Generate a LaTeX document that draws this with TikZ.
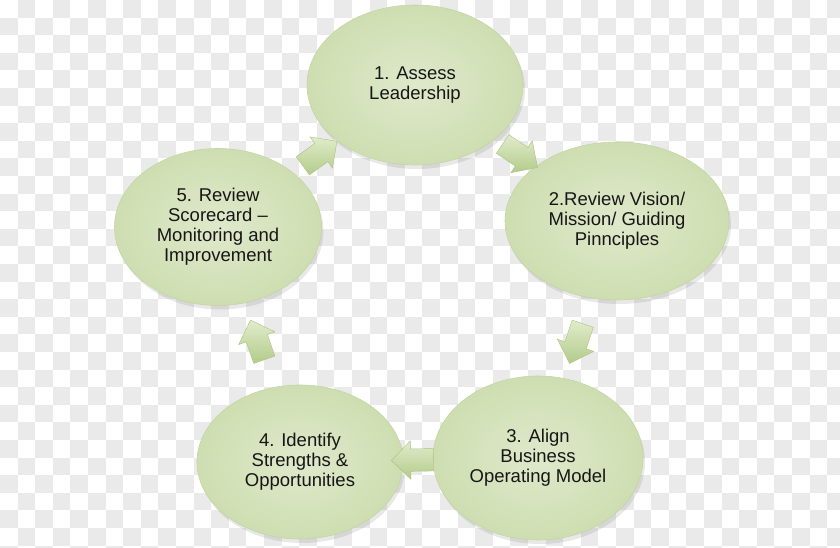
\documentclass[tikz,border=0pt]{standalone}
\usepackage{fontspec}
\setmainfont{Liberation Sans}
\usetikzlibrary{
    shapes.geometric,
    shapes.arrows,
    shadows,
    calc
}
\definecolor{ink}      {HTML}{161616}
\definecolor{checker}  {HTML}{EAEAEA}
\definecolor{leafin}   {HTML}{DFE9CB}
\definecolor{leafout}  {HTML}{CEDEB1}
\definecolor{leafrim}  {HTML}{C3D5A3}
\definecolor{arrowtop} {HTML}{E1ECCB}
\definecolor{arrowbot} {HTML}{B3CB8A}
\definecolor{arrowrim} {HTML}{A9C27F}

\begin{document}
\begin{tikzpicture}[
    x=1pt, y=1pt,
    %% --- semantic styles ---
    checkcell/.style  = {fill=checker, draw=none},
    stagebox/.style   = {ellipse, inner color=leafin, outer color=leafout,
                         draw=leafrim, line width=0.6pt, inner sep=0pt,
                         align=center, text=ink,
                         font=\fontsize{18.5}{20}\selectfont,
                         drop shadow={shadow xshift=2pt, shadow yshift=-4pt,
                                      opacity=0.18}},
    cyclearrow/.style = {single arrow, minimum height=42pt,
                         inner xsep=0pt, inner ysep=11pt,
                         single arrow head extend=8pt,
                         top color=arrowtop, bottom color=arrowbot,
                         draw=arrowrim, line width=0.4pt,
                         sloped, allow upside down}
]
\useasboundingbox (0,0) rectangle (840,548);

%% =====================================================
%% Background checkerboard
%% =====================================================
\foreach \i in {0,2,...,46}
  \foreach \j in {1,3,...,31}
    \path[checkcell] (\i*17.6, 548-\j*17.6) rectangle ++(17.6,-17.6);
\foreach \i in {1,3,...,47}
  \foreach \j in {0,2,...,30}
    \path[checkcell] (\i*17.6, 548-\j*17.6) rectangle ++(17.6,-17.6);

%% =====================================================
%% The five stages
%% =====================================================
\node[stagebox, minimum width=216pt, minimum height=160pt] (E1) at (415, 463)
    {1. Assess\\Leadership};
\node[stagebox, minimum width=224pt, minimum height=158pt] (E2) at (617, 327)
    {2.Review Vision/\\Mission/ Guiding\\Pinnciples};
\node[stagebox, minimum width=210pt, minimum height=164pt] (E3) at (538, 90)
    {3. Align\\Business\\Operating Model};
\node[stagebox, minimum width=206pt, minimum height=154pt] (E4) at (300, 86)
    {4. Identify\\Strengths \&\\Opportunities};
\node[stagebox, minimum width=207pt, minimum height=157pt] (E5) at (218, 321)
    {5. Review\\Scorecard --\\Monitoring and\\Improvement};

%% =====================================================
%% Block arrows round the cycle
%% =====================================================
\path (E1) -- node[cyclearrow] (A12) {} (E2);
\path (E2) -- node[cyclearrow] (A23) {} (E3);
\path (E3) -- node[cyclearrow] (A34) {} (E4);
\path (E4) -- node[cyclearrow] (A45) {} (E5);
\path (E5) -- node[cyclearrow] (A51) {} (E1);

\end{tikzpicture}
\end{document}
